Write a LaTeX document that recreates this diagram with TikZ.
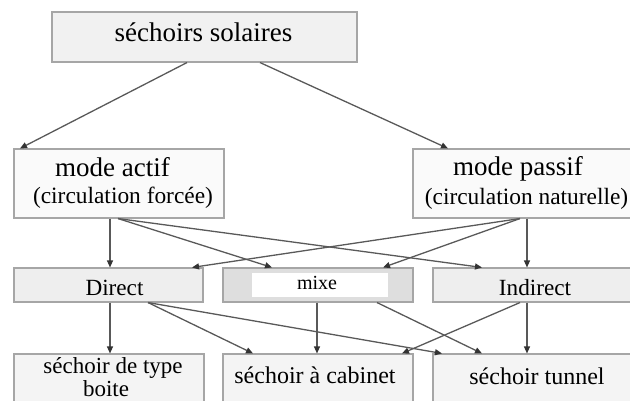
\documentclass[tikz,border=0pt]{standalone}
\usepackage{fontspec}
\setmainfont{Liberation Serif}
\usetikzlibrary{arrows.meta}
\begin{document}
\begin{tikzpicture}[x=1pt,y=-1pt,
  box/.style={draw=gray!70, line width=1.1pt, fill=gray!10, inner sep=0pt},
  boxlight/.style={box, fill=gray!4},
  conn/.style={draw=gray!70!black, line width=1.3pt,
    -{Triangle[length=7pt,width=6pt,color=black!80]}},
  txt/.style={anchor=base, inner sep=0pt, text=black},
  fA/.style={font=\fontsize{27}{30}\selectfont},
  fB/.style={font=\fontsize{23.4}{26}\selectfont},
  fC/.style={font=\fontsize{23.2}{26}\selectfont},
  fD/.style={font=\fontsize{24}{18}\selectfont},
  fE/.style={font=\fontsize{23}{18}\selectfont},
]
\useasboundingbox (0,0) rectangle (630,401);

% boxes
\node[box, fill=gray!11, minimum width=305pt, minimum height=50pt] (top) at (204.5,37) {};
\node[boxlight, minimum width=210pt, minimum height=69pt] (actif) at (119,183.5) {};
\node[boxlight, minimum width=232pt, minimum height=69pt] (passif) at (529,183.5) {};
\node[box, fill=gray!13, minimum width=189pt, minimum height=34pt] (direct) at (108.5,285) {};
\node[box, fill=gray!26, minimum width=190pt, minimum height=34pt] (mixe) at (318,285) {};
\node[fill=white, inner sep=0pt, minimum width=136pt, minimum height=24pt] (mixein) at (320,285) {};
\node[box, fill=gray!13, minimum width=212pt, minimum height=34pt] (indirect) at (539,285) {};
\node[box, fill=gray!9, minimum width=190pt, minimum height=61pt] (boite) at (109,384.5) {};
\node[box, fill=gray!9, minimum width=190pt, minimum height=61pt] (cabinet) at (318,384.5) {};
\node[box, fill=gray!9, minimum width=212pt, minimum height=61pt] (tunnel) at (539,384.5) {};

% texts
\node[txt, fA] (ttop) at (203.5,42) {séchoirs solaires};
\node[txt, fA] (tactifA) at (112.5,177) {mode actif};
\node[txt, fB] (tactifB) at (123,204) {(circulation forcée)};
\node[txt, fA] (tpassifA) at (518,176) {mode passif};
\node[txt, fB] (tpassifB) at (526.5,205) {(circulation naturelle)};
\node[txt, fC] (tdirect) at (114.5,295) {Direct};
\node[txt, font=\fontsize{20}{22}\selectfont] (tmixe) at (317,289) {mixe};
\node[txt, fC] (tindirect) at (535,295) {Indirect};
\node[txt, fE] (tboiteA) at (113,373) {séchoir de type};
\node[txt, fE] (tboiteB) at (106,396) {boite};
\node[txt, fD] (tcabinet) at (315,383) {séchoir à cabinet};
\node[txt, fD] (ttunnel) at (537,384) {séchoir tunnel};

% connectors
\draw[conn] (187,0 |- top.south) -- (20,0 |- actif.north);
\draw[conn] (260,0 |- top.south) -- (448,0 |- passif.north);

\draw[conn] (110,0 |- actif.south) -- (110,0 |- direct.north);
\draw[conn] (118,0 |- actif.south) -- (272,0 |- mixe.north);
\draw[conn] (118,0 |- actif.south) -- (482,0 |- indirect.north);
\draw[conn] (520,0 |- passif.south) -- (192,0 |- direct.north);
\draw[conn] (520,0 |- passif.south) -- (383,0 |- mixe.north);
\draw[conn] (527,0 |- passif.south) -- (527,0 |- indirect.north);

\draw[conn] (110,0 |- direct.south) -- (110,0 |- boite.north);
\draw[conn] (148,0 |- direct.south) -- (253,0 |- cabinet.north);
\draw[conn] (148,0 |- direct.south) -- (442,0 |- tunnel.north);
\draw[conn] (317,0 |- mixe.south) -- (317,0 |- cabinet.north);
\draw[conn] (377,0 |- mixe.south) -- (482,0 |- tunnel.north);
\draw[conn] (527,0 |- indirect.south) -- (527,0 |- tunnel.north);
\draw[conn] (520,0 |- indirect.south) -- (402,0 |- cabinet.north);
\end{tikzpicture}
\end{document}
